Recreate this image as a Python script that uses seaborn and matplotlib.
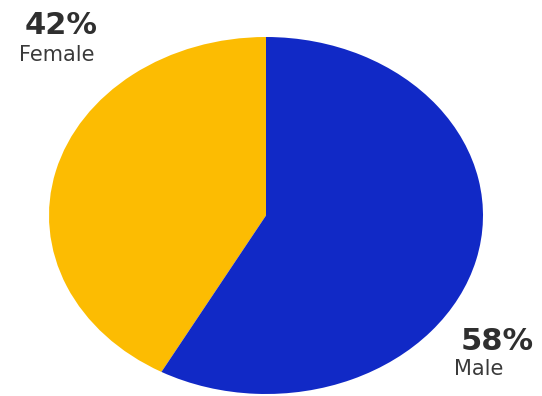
import matplotlib
matplotlib.use("Agg")
import matplotlib.pyplot as plt
import seaborn as sns

# Gender split
groups = ["Female", "Male"]
shares = [42, 58]
colors = ["#FCBC02", "#1129C6"]

sns.set_style("white")
plt.rcParams["font.family"] = ["DejaVu Sans"]

W, H = 542, 396
fig = plt.figure(figsize=(W / 100, H / 100), dpi=100)

# Axes box in pixel terms: the pie is stretched into an ellipse
left, right, top, bottom = 49, 483, 37, 394
ax = fig.add_axes([left / W, (H - bottom) / H, (right - left) / W, (bottom - top) / H])
ax.pie(shares, colors=sns.color_palette(colors), startangle=90, counterclock=True,
       radius=1.0, wedgeprops=dict(linewidth=0, antialiased=True))
ax.set_aspect("auto")
ax.set_xlim(-1, 1)
ax.set_ylim(-1, 1)
ax.axis("off")

def px(x, y):
    return x / W, 1 - y / H

text_col = "#2f2f2f"
# Female label, top left
fig.text(*px(61, 26), f"{shares[0]}%", ha="center", va="center",
         fontsize=22, fontweight="bold", color=text_col)
fig.text(*px(57, 55), groups[0], ha="center", va="center",
         fontsize=15, color="#3a3a3a")
# Male label, bottom right
fig.text(*px(497, 342), f"{shares[1]}%", ha="center", va="center",
         fontsize=22, fontweight="bold", color=text_col)
fig.text(*px(454, 369), groups[1], ha="left", va="center",
         fontsize=15, color="#3a3a3a")

fig.savefig("out.png", dpi=100, facecolor="white")
